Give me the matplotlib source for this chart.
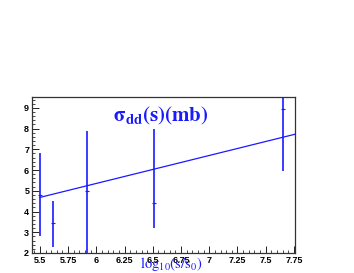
import matplotlib
matplotlib.use('Agg')
import matplotlib.pyplot as plt
from matplotlib.ticker import MultipleLocator

# data points (log10(s/s0), sigma_dd in mb)
x_pts = [5.5, 5.62, 5.92, 6.51, 7.65]
y_pts = [4.8, 3.45, 5.0, 4.4, 8.95]
y_lo = [2.0, 1.15, 3.0, 1.2, 3.0]
y_hi = [2.0, 1.05, 2.9, 3.6, 3.0]

# fitted line end points
fit_x = [5.5, 7.77]
fit_y = [4.68, 7.74]

blue = '#1a1aff'

fig = plt.figure(figsize=(3.54, 2.73), dpi=100)
ax = fig.add_axes([0.0904, 0.0733, 0.743, 0.572])

ax.errorbar(x_pts, y_pts, yerr=[y_lo, y_hi], fmt='none', ecolor=blue,
            elinewidth=1.2, capsize=0)
ax.plot(x_pts, y_pts, ls='none', marker='_', ms=3, color=blue, mew=0.8)
ax.plot(fit_x, fit_y, color=blue, lw=0.9)

ax.set_xlim(5.43, 7.76)
ax.set_ylim(2, 9.53)
ax.xaxis.set_minor_locator(MultipleLocator(0.05))
ax.yaxis.set_major_locator(MultipleLocator(1))
ax.yaxis.set_minor_locator(MultipleLocator(0.2))
ax.set_xticks([5.5, 5.75, 6, 6.25, 6.5, 6.75, 7, 7.25, 7.5, 7.75])
ax.set_xticklabels(['5.5', '5.75', '6', '6.25', '6.5', '6.75', '7', '7.25', '7.5', '7.75'])
ax.tick_params(which='both', direction='in', labelsize=6.5, pad=2)
ax.tick_params(which='major', length=5, width=0.6)
ax.tick_params(which='minor', length=2.5, width=0.5)
for lab in ax.get_xticklabels() + ax.get_yticklabels():
    lab.set_fontweight('bold')
    lab.set_family('Liberation Sans')
for sp in ax.spines.values():
    sp.set_linewidth(0.9)
    sp.set_color('#333333')

ax.text(0.49, 0.875, r'$\mathbf{\sigma_{dd}(s)(mb)}$', transform=ax.transAxes,
        color=blue, fontsize=15, ha='center', va='center',
        math_fontfamily='stix')
fig.text(0.484, 0.018, r'$\mathrm{log_{10}(s/s_{0})}$', color=blue,
         fontsize=10.5, ha='center', va='baseline', math_fontfamily='stix')

fig.savefig('out.png', dpi=100)
